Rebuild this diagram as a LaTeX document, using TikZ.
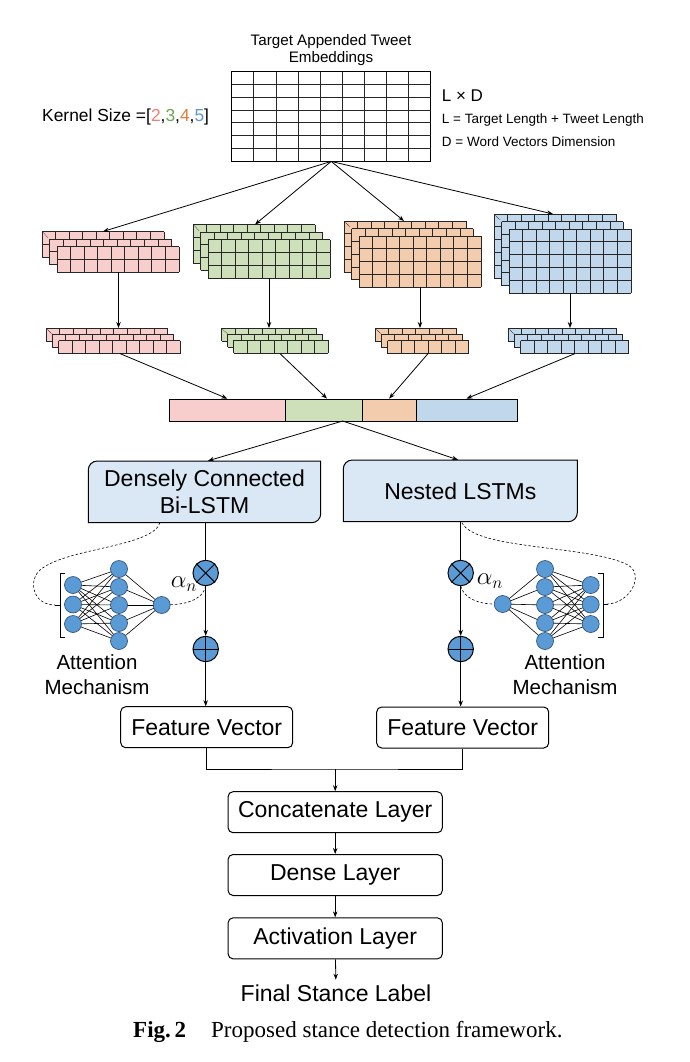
\documentclass[tikz,border=0pt]{standalone}
\usepackage{fontspec}
\setmainfont{Liberation Sans}
\newfontfamily\capfont{Liberation Serif}
\usetikzlibrary{arrows.meta}
\definecolor{pinkF}{RGB}{248,206,204}
\definecolor{greenF}{RGB}{206,224,186}
\definecolor{orangeF}{RGB}{242,204,172}
\definecolor{blueF}{RGB}{193,215,236}
\definecolor{lstmF}{RGB}{218,232,245}
\definecolor{nnF}{RGB}{91,155,213}
\definecolor{nnD}{RGB}{40,70,110}
\definecolor{k2}{RGB}{234,128,122}
\definecolor{k3}{RGB}{106,168,79}
\definecolor{k4}{RGB}{224,123,57}
\definecolor{k5}{RGB}{95,150,210}
\newcommand{\fmlayer}[7]{%
  \fill[#7] ({#1},{#2}) rectangle ++({#3*#5},{#4*#6});
  \foreach \i in {0,...,#3} {\draw[cell] ({#1+\i*#5},{#2}) -- ++(0,{#4*#6});}
  \foreach \j in {0,...,#4} {\draw[cell] ({#1},{#2+\j*#6}) -- ++({#3*#5},0);}
}
\newcommand{\fmstack}[8]{%
  \foreach \k in {0,1,2} {\fmlayer{#1+\k*#7}{#2+\k*#7}{#3}{#4}{#5}{#6}{#8}}
  \draw[densely dotted, line width=0.6pt] ({#1+1},{#2+1}) -- ++(5,5);
}
\newcommand{\lstmshape}[4]{%
  \filldraw[fill=lstmF, line width=1pt] ({#1},{#4}) -- ({#1},{#2+9}) .. controls ({#1},{#2+4}) and ({#1+4},{#2}) .. ({#1+9},{#2}) -- ({#3},{#2}) -- ({#3},{#4-9}) .. controls ({#3},{#4-4}) and ({#3-4},{#4}) .. ({#3-9},{#4}) -- cycle;
}
\begin{document}
\begin{tikzpicture}[x=1pt,y=-1pt,
  cell/.style={line width=0.8pt, black!85},
  arr/.style={-{Stealth[length=6pt,width=4.5pt]}, line width=0.8pt},
  ln/.style={line width=0.8pt},
  box/.style={rectangle, rounded corners=5pt, draw, line width=1pt, minimum height=41, inner sep=0, font=\fontsize{23}{27}\selectfont},
  nn/.style={circle, minimum size=17, inner sep=0, fill=nnF, draw=nnD, line width=0.6pt},
  nnedge/.style={line width=0.6pt},
  opnode/.style={circle, minimum size=25.4, inner sep=0, fill=nnF, draw, line width=1pt},
  dsh/.style={dashed, line width=0.6pt, dash pattern=on 2.5pt off 2pt}]
\useasboundingbox (0,0) rectangle (690,1062);

% --- top texts
\node[align=center, font=\fontsize{15.2}{16.6}\selectfont] (title) at (331,50) {Target Appended Tweet\\Embeddings};
\node[anchor=west, inner sep=0, font=\fontsize{17.4}{20}\selectfont] (kern) at (42,116.7) {Kernel Size =[\textcolor{k2}{2},\textcolor{k3}{3},\textcolor{k4}{4},\textcolor{k5}{5}]};
\node[anchor=west, inner sep=0, font=\fontsize{17}{19}\selectfont] (lxd) at (441.7,96) {L × D};
\node[anchor=west, inner sep=0, font=\fontsize{13.5}{16}\selectfont] (ldef) at (441.7,120) {L = Target Length + Tweet Length};
\node[anchor=west, inner sep=0, font=\fontsize{13.5}{16}\selectfont] (ddef) at (441.7,141.7) {D = Word Vectors Dimension};

% --- embedding grid
\node[rectangle, draw, line width=0.8pt, minimum width=199, minimum height=89.3, inner sep=0] (emb) at (331.2,116.35) {};
\foreach \i in {1,...,8} {\draw[cell] ({231.7+\i*22.11},71.7) -- ++(0,89.3);}
\foreach \j in {1,...,6} {\draw[cell] (231.7,{71.7+\j*12.757}) -- ++(199,0);}

% --- feature map stacks
\fmstack{42}{231.5}{9}{2}{13.55}{12.8}{7.5}{pinkF}
\fmstack{193}{224.5}{9}{3}{13.55}{12.8}{7.5}{greenF}
\fmstack{344}{221}{9}{4}{13.55}{12.8}{7.5}{orangeF}
\fmstack{494}{214}{9}{5}{13.55}{12.8}{7.5}{blueF}
% --- pooled stacks
\fmstack{46}{328}{9}{1}{13.5}{13}{6.3}{pinkF}
\fmstack{221.5}{328}{7}{1}{13.5}{13}{6}{greenF}
\fmstack{375}{328}{6}{1}{13.5}{13}{6.3}{orangeF}
\fmstack{508}{328}{8}{1}{13.5}{13}{6.3}{blueF}

\coordinate (pT) at (103,231.5);  \coordinate (pB) at (118.5,272.1); \coordinate (pS) at (118.5,328); \coordinate (pSB) at (120,353.6);
\coordinate (gT) at (255,224.5);  \coordinate (gB) at (269,277.9);   \coordinate (gS) at (269,328);   \coordinate (gSB) at (280,353.6);
\coordinate (oT) at (404,221);    \coordinate (oB) at (420,287.2);   \coordinate (oS) at (420,328);   \coordinate (oSB) at (428,353.6);
\coordinate (bT) at (553,214);    \coordinate (bB) at (570,293);     \coordinate (bS) at (570,328);   \coordinate (bSB) at (575,353.6);

\foreach \c in {p,g,o,b} {
  \draw[arr] (emb.south) -- (\c T);
  \draw[arr] (\c B) -- (\c S);
}

% --- concatenated bar
\node[rectangle, draw, fill=pinkF, line width=0.8pt, minimum width=116.7, minimum height=22, inner sep=0] (barP) at (227.35,410) {};
\node[rectangle, draw, fill=greenF, line width=0.8pt, minimum width=76.6, minimum height=22, inner sep=0] (barG) at (324,410) {};
\node[rectangle, draw, fill=orangeF, line width=0.8pt, minimum width=53.7, minimum height=22, inner sep=0] (barO) at (389.15,410) {};
\node[rectangle, draw, fill=blueF, line width=0.8pt, minimum width=101, minimum height=22, inner sep=0] (barB) at (466.5,410) {};
\draw[arr] (pSB) -- (barP.north);
\draw[arr] (gSB) -- ([xshift=3pt]barG.north);
\draw[arr] (oSB) -- (barO.north);
\draw[arr] (bSB) -- (barB.north);
\coordinate (split) at (342.7,421);

% --- LSTM boxes
\lstmshape{88.3}{461}{320.7}{522.7}
\lstmshape{343.3}{460}{577.3}{521.7}
\node[minimum width=232.4, minimum height=61.7, inner sep=0, align=center, font=\fontsize{23}{26.7}\selectfont] (lstmL) at (204.5,491.85) {Densely Connected\\Bi-LSTM};
\node[minimum width=234, minimum height=61.7, inner sep=0, font=\fontsize{23}{26.7}\selectfont] (lstmR) at (460.3,490.85) {Nested LSTMs};
\draw[arr] (split) -- ([xshift=3.5pt]lstmL.north);
\draw[arr] (split) -- (lstmR.north -| 458,0);

% --- operators
\node[opnode] (mulL) at (205.7,573) {};
\node[opnode] (addL) at (205.7,649) {};
\node[opnode] (mulR) at (460.7,573) {};
\node[opnode] (addR) at (460.7,649) {};
\foreach \m in {mulL,mulR} {\draw[line width=1pt] (\m.45) -- (\m.225) (\m.135) -- (\m.315);}
\foreach \m in {addL,addR} {\draw[line width=1pt] (\m.north) -- (\m.south) (\m.east) -- (\m.west);}

% --- bottom boxes
\node[box, minimum width=172] (fvL) at (206.7,727.2) {Feature Vector};
\node[box, minimum width=172] (fvR) at (462.7,727.5) {Feature Vector};
\node[box, minimum width=214.3] (cat) at (335.2,812.2) {Concatenate Layer};
\node[box, minimum width=214.3] (dense) at (335.2,875) {Dense Layer};
\node[box, minimum width=214.3] (act) at (335.2,938.35) {Activation Layer};
\node[inner sep=0, font=\fontsize{23}{27}\selectfont] (final) at (336,993.3) {Final Stance Label};

\draw[ln] (lstmL.south -| mulL) -- (mulL);
\draw[arr] (mulL) -- (addL);
\draw[arr] (addL) -- (addL |- fvL.north);
\draw[ln] (lstmR.south -| mulR) -- (mulR);
\draw[arr] (mulR) -- (addR);
\draw[arr] (addR) -- (addR |- fvR.north);

\coordinate (merge) at (335.2,769);
\draw[ln] (fvL.south) |- (merge) -| (fvR.south);
\draw[arr] (merge) -- (cat.north);
\draw[arr] (cat) -- (dense);
\draw[arr] (dense) -- (act);
\draw[arr, shorten >=5pt] (act) -- (final);

% --- left attention network
\foreach \n/\y in {1/585,2/604.5,3/624} {\coordinate (Lic\n) at (73,\y);}
\foreach \n/\y in {1/569,2/587,3/605,4/623,5/641} {\coordinate (Lhc\n) at (119,\y);}
\foreach \a in {1,2,3} {\foreach \b in {1,...,5} {\draw[nnedge] (Lic\a) -- (Lhc\b);}}
\foreach \b in {1,...,5} {\draw[nnedge] (Lhc\b) -- (161.7,605);}
\foreach \n in {1,2,3} {\node[nn] (Li\n) at (Lic\n) {};}
\foreach \n in {1,...,5} {\node[nn] (Lh\n) at (Lhc\n) {};}
\node[nn] (Lo) at (161.7,605) {};
\draw[line width=0.8pt] (65,573) -- (60,573) -- (60,637) -- (65,637);
\coordinate (Ltick) at (55,605);
\draw[line width=0.8pt] (60,605) -- (Ltick);
\coordinate (dL) at (160,522.7);
\draw[dsh] (dL) .. controls (152,548) and (60,548) .. (38,572) .. controls (28,585) and (35,605) .. (Ltick);
\draw[dsh] (Lo) .. controls (190,604) and (203,598) .. (mulL.south);
\node[font=\fontsize{24}{28}\selectfont] (alL) at (184,584) {$\alpha_n$};
\node[align=center, font=\fontsize{20.5}{25}\selectfont] (attL) at (97,674.5) {Attention\\Mechanism};

% --- right attention network
\foreach \n/\y in {1/585,2/604.5,3/624} {\coordinate (Ric\n) at (590.7,\y);}
\foreach \n/\y in {1/569,2/587,3/605,4/623,5/641} {\coordinate (Rhc\n) at (545,\y);}
\foreach \a in {1,2,3} {\foreach \b in {1,...,5} {\draw[nnedge] (Ric\a) -- (Rhc\b);}}
\foreach \b in {1,...,5} {\draw[nnedge] (Rhc\b) -- (502.7,604);}
\foreach \n in {1,2,3} {\node[nn] (Ri\n) at (Ric\n) {};}
\foreach \n in {1,...,5} {\node[nn] (Rh\n) at (Rhc\n) {};}
\node[nn] (Ro) at (502.7,604) {};
\draw[line width=0.8pt] (598,573) -- (603.3,573) -- (603.3,637) -- (598,637);
\coordinate (Rtick) at (607.5,604);
\draw[line width=0.8pt] (603.3,604) -- (Rtick);
\coordinate (dR) at (462,522.7);
\draw[dsh] (dR) .. controls (475,550) and (590,545) .. (628,565) .. controls (645,575) and (630,603) .. (Rtick);
\draw[dsh] (mulR.south) .. controls (464,598) and (478,604) .. (Ro);
\node[font=\fontsize{24}{28}\selectfont] (alR) at (490,581) {$\alpha_n$};
\node[align=center, font=\fontsize{20.5}{25}\selectfont] (attR) at (565,674.5) {Attention\\Mechanism};

% --- caption
\node[anchor=base west, inner sep=0, font=\capfont\bfseries\fontsize{23}{27}\selectfont] (fig) at (133,1037) {Fig.\,2};
\node[anchor=base west, inner sep=0, font=\capfont\fontsize{23}{27}\selectfont] (captxt) at (211,1037) {Proposed stance detection framework.};
\end{tikzpicture}
\end{document}
